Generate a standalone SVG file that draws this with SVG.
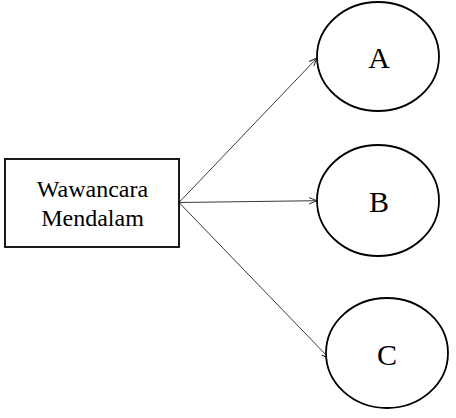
<svg xmlns="http://www.w3.org/2000/svg" width="456" height="418" viewBox="0 0 456 418">
<style>
.shape{fill:#fff;stroke:#000;stroke-width:1.8}
.lbl{font-family:"Liberation Serif","Times New Roman",serif;fill:#000;text-anchor:middle}
.conn{stroke:#222;stroke-width:0.9;fill:none;marker-end:url(#arr)}
</style>
<defs>
<marker id="arr" viewBox="0 0 10 10" refX="10" refY="5" markerWidth="8" markerHeight="8" markerUnits="userSpaceOnUse" orient="auto">
<path d="M0,1 L10,5 L0,9" fill="none" stroke="#222" stroke-width="1.2"/>
</marker>
</defs>
<rect width="456" height="418" fill="#fff"/>
<g id="connectors">
<line class="conn" x1="179" y1="202.5" x2="317" y2="58"/>
<line class="conn" x1="179" y1="202.5" x2="317" y2="200.7"/>
<line class="conn" x1="179" y1="202.5" x2="329.5" y2="358.5"/>
</g>
<g id="node-wawancara">
<rect class="shape" x="5" y="159" width="174" height="88"/>
<text class="lbl" x="92.5" y="197" font-size="24">Wawancara</text>
<text class="lbl" x="92.5" y="226" font-size="24">Mendalam</text>
</g>
<g id="node-a">
<ellipse class="shape" cx="378" cy="56.5" rx="61" ry="54.5"/>
<text class="lbl" x="379" y="68" font-size="30">A</text>
</g>
<g id="node-b">
<ellipse class="shape" cx="378" cy="200.5" rx="61" ry="55.5"/>
<text class="lbl" x="379" y="212" font-size="30">B</text>
</g>
<g id="node-c">
<ellipse class="shape" cx="387" cy="353" rx="61" ry="55"/>
<text class="lbl" x="387" y="365" font-size="30">C</text>
</g>
</svg>
